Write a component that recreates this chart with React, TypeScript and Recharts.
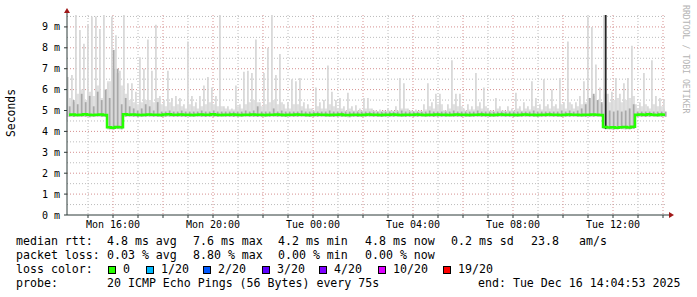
import { ComposedChart, Area, Bar, Line, XAxis, YAxis, CartesianGrid, Cell } from 'recharts'

// time: hours since Mon 00:00, one bin = 9.6 min
const START = 14.16
const STEP = 0.16

const medianRtt = [
  4.80, 4.81, 4.79, 4.80, 4.82, 4.80, 4.78, 4.80, 4.81, 4.79,
  4.20, 4.18, 4.21, 4.20, 4.82, 4.80, 4.81, 4.80, 4.79, 4.80,
  4.81, 4.80, 4.80, 4.79, 4.81, 4.82, 4.80, 4.80, 4.81, 4.80,
  4.80, 4.79, 4.80, 4.81, 4.80, 4.80, 4.82, 4.80, 4.79, 4.80,
  4.80, 4.81, 4.80, 4.79, 4.80, 4.80, 4.81, 4.80, 4.80, 4.79,
  4.80, 4.80, 4.81, 4.80, 4.79, 4.80, 4.80, 4.81, 4.80, 4.80,
  4.79, 4.80, 4.81, 4.80, 4.80, 4.79, 4.80, 4.80, 4.81, 4.79,
  4.78, 4.80, 4.80, 4.79, 4.80, 4.81, 4.80, 4.80, 4.79, 4.80,
  4.80, 4.81, 4.80, 4.79, 4.80, 4.80, 4.80, 4.81, 4.80, 4.79,
  4.80, 4.80, 4.81, 4.80, 4.80, 4.79, 4.80, 4.81, 4.80, 4.80,
  4.79, 4.80, 4.80, 4.81, 4.80, 4.80, 4.79, 4.80, 4.81, 4.80,
  4.80, 4.80, 4.79, 4.80, 4.81, 4.80, 4.80, 4.79, 4.80, 4.80,
  4.81, 4.80, 4.80, 4.79, 4.80, 4.81, 4.80, 4.80, 4.79, 4.80,
  4.80, 4.81, 4.80, 4.79, 4.21, 4.19, 4.20, 4.18, 4.20, 4.21,
  4.19, 4.22, 4.80, 4.81, 4.80, 4.82, 4.80, 4.79, 4.81, 4.80,
]

const pingLow = [
  4.70, 4.69, 4.71, 4.70, 4.70, 4.68, 4.70, 4.71, 4.70, 4.69,
  4.10, 4.09, 4.11, 4.10, 4.70, 4.71, 4.70, 4.69, 4.70, 4.70,
  4.71, 4.70, 4.70, 4.69, 4.70, 4.71, 4.70, 4.70, 4.70, 4.69,
  4.70, 4.70, 4.71, 4.70, 4.69, 4.70, 4.70, 4.70, 4.71, 4.70,
  4.70, 4.69, 4.70, 4.70, 4.71, 4.70, 4.70, 4.69, 4.70, 4.70,
  4.70, 4.71, 4.70, 4.70, 4.69, 4.70, 4.70, 4.70, 4.71, 4.70,
  4.69, 4.70, 4.70, 4.71, 4.70, 4.70, 4.69, 4.70, 4.70, 4.70,
  4.68, 4.70, 4.69, 4.70, 4.70, 4.71, 4.70, 4.70, 4.69, 4.70,
  4.70, 4.70, 4.71, 4.70, 4.69, 4.70, 4.70, 4.70, 4.71, 4.70,
  4.70, 4.69, 4.70, 4.70, 4.70, 4.71, 4.70, 4.70, 4.69, 4.70,
  4.70, 4.70, 4.71, 4.70, 4.70, 4.69, 4.70, 4.70, 4.71, 4.70,
  4.70, 4.69, 4.70, 4.70, 4.71, 4.70, 4.70, 4.69, 4.70, 4.70,
  4.71, 4.70, 4.70, 4.69, 4.70, 4.70, 4.71, 4.70, 4.70, 4.69,
  4.70, 4.70, 4.71, 4.70, 4.11, 4.10, 4.09, 4.10, 4.11, 4.10,
  4.10, 4.12, 4.70, 4.70, 4.69, 4.70, 4.71, 4.70, 4.70, 4.70,
]

// top of the dense light smoke band
const pingBase = [
  5.60, 5.40, 5.80, 6.00, 5.50, 5.90, 5.70, 6.20, 5.60, 6.00,
  6.40, 7.00, 6.80, 6.20, 5.80, 5.50, 5.40, 5.30, 5.40, 5.50,
  5.50, 5.40, 5.60, 5.30, 5.20, 5.40, 5.20, 5.30, 5.20, 5.10,
  5.30, 5.20, 5.10, 5.20, 5.30, 5.40, 5.30, 5.20, 5.20, 5.10,
  5.05, 5.05, 5.20, 5.10, 5.30, 5.40, 5.50, 5.40, 5.20, 5.30,
  5.40, 5.50, 5.30, 5.40, 5.10, 5.10, 5.30, 5.30, 5.20, 5.10,
  5.10, 5.00, 5.20, 5.10, 5.10, 5.30, 5.20, 5.10, 5.10, 5.00,
  5.10, 5.00, 5.00, 5.00, 5.10, 5.10, 5.00, 4.95, 4.95, 4.95,
  5.00, 4.95, 5.00, 5.10, 5.10, 5.00, 4.95, 4.95, 4.95, 5.05,
  5.20, 5.10, 5.30, 5.30, 5.00, 5.10, 5.30, 5.20, 5.20, 5.00,
  5.05, 5.05, 5.20, 5.10, 5.20, 5.00, 4.95, 5.10, 5.00, 4.95,
  5.00, 5.00, 5.10, 5.00, 5.10, 5.05, 5.20, 5.10, 5.05, 5.20,
  5.10, 5.20, 5.10, 5.30, 5.10, 5.40, 5.10, 5.20, 5.30, 5.40,
  5.60, 5.70, 5.50, 5.30, 5.80, 5.40, 5.50, 5.60, 5.40, 5.50,
  5.60, 5.70, 5.10, 5.20, 5.30, 5.10, 5.30, 5.20, 5.20, 5.10,
]

// highest ping of each bin
const pingHigh = [
  6.60, 6.70, 9.57, 8.85, 8.20, 9.10, 9.50, 9.50, 8.90, 9.57,
  6.30, 9.50, 8.60, 6.90, 9.57, 6.30, 6.30, 5.90, 7.55, 7.00,
  8.40, 6.90, 9.10, 5.70, 5.50, 6.90, 5.60, 5.70, 5.60, 5.30,
  8.30, 5.70, 5.40, 5.70, 6.20, 6.60, 6.10, 5.70, 9.57, 5.20,
  5.20, 5.10, 6.20, 5.30, 6.85, 6.90, 6.80, 8.40, 5.40, 6.80,
  8.00, 9.57, 6.70, 7.70, 5.30, 5.40, 6.50, 6.40, 6.55, 5.40,
  5.30, 5.10, 6.10, 5.40, 5.50, 7.15, 5.90, 5.50, 5.60, 5.20,
  5.85, 5.20, 5.25, 5.10, 5.60, 5.60, 5.10, 5.00, 5.05, 5.00,
  5.10, 5.00, 5.20, 6.55, 6.30, 5.10, 5.00, 5.05, 5.00, 5.30,
  6.30, 5.40, 5.80, 5.80, 5.00, 5.30, 7.40, 5.80, 5.80, 5.10,
  5.30, 5.20, 6.80, 5.40, 6.10, 5.10, 5.00, 5.60, 5.20, 5.00,
  5.20, 5.10, 5.85, 5.20, 5.40, 5.20, 6.40, 5.60, 5.30, 6.50,
  5.30, 6.00, 5.30, 6.55, 5.40, 8.30, 5.30, 5.40, 5.70, 6.40,
  9.50, 9.00, 7.20, 6.10, 9.57, 5.80, 5.90, 6.55, 5.80, 6.30,
  6.55, 8.10, 5.30, 5.40, 6.80, 5.20, 7.40, 5.70, 5.60, 5.50,
]

// top of the darker (denser) smoke
const pingDark = [
  5.20, 5.50, 5.30, 5.80, 5.40, 5.70, 5.20, 5.90, 5.50, 6.00,
  5.60, 7.90, 7.00, 5.30, 5.60, 5.20, 5.10, 5.00, 5.10, 5.30,
  5.20, 5.00, 5.40, 4.95, 4.95, 5.00, 4.95, 4.95, 5.00, 4.95,
  4.95, 4.95, 4.95, 5.00, 4.95, 4.95, 5.00, 4.95, 4.95, 4.95,
  4.95, 4.95, 4.95, 4.95, 5.00, 4.95, 5.00, 5.20, 4.95, 4.95,
  4.95, 5.10, 4.95, 5.00, 4.95, 4.95, 4.95, 4.95, 5.00, 4.95,
  4.95, 4.95, 4.95, 4.95, 4.95, 5.00, 4.95, 4.95, 4.95, 4.95,
  4.95, 4.95, 4.95, 4.95, 4.95, 4.95, 4.95, 4.95, 4.95, 4.95,
  4.95, 4.95, 4.95, 5.00, 4.95, 4.95, 4.95, 4.95, 4.95, 4.95,
  5.00, 4.95, 4.95, 4.95, 4.95, 4.95, 5.00, 4.95, 4.95, 4.95,
  4.95, 4.95, 5.00, 4.95, 4.95, 4.95, 4.95, 4.95, 4.95, 4.95,
  4.95, 4.95, 4.95, 4.95, 4.95, 4.95, 5.00, 4.95, 4.95, 4.95,
  4.95, 4.95, 4.95, 5.00, 4.95, 5.00, 4.95, 5.00, 5.10, 5.30,
  5.60, 5.80, 5.50, 5.40, 9.57, 5.00, 4.95, 5.00, 4.95, 5.00,
  5.10, 5.30, 4.95, 4.95, 4.95, 4.95, 4.95, 4.95, 4.95, 4.95,
]

const hourTicks = [15, 16, 17, 18, 19, 20, 21, 22, 23, 24, 25, 26, 27, 28, 29, 30, 31, 32, 33, 34, 35, 36, 37, 38]
const labelHours = [16, 20, 24, 28, 32, 36]
const timeLabels = ['Mon 16:00', 'Mon 20:00', 'Tue 00:00', 'Tue 04:00', 'Tue 08:00', 'Tue 12:00']
const majorV = [16, 18, 20, 22, 24, 26, 28, 30, 32, 34, 36, 38]
const minorV = [15, 17, 19, 21, 23, 25, 27, 29, 31, 33, 35, 37]
const msTicks = [0, 1, 2, 3, 4, 5, 6, 7, 8, 9]
const minorH = [0.5, 1.5, 2.5, 3.5, 4.5, 5.5, 6.5, 7.5, 8.5, 9.5]

const lossLabels = ['0', '1/20', '2/20', '3/20', '4/20', '10/20', '19/20']
const lossColors = ['#26ff00', '#00b8ff', '#0059ff', '#5e00ff', '#7e00ff', '#dd00ff', '#ff0000']
const lossBoxX = [108, 146, 203, 262, 319, 378, 443]

const statRows = [
  { label: 'median rtt:', items: ['4.8 ms avg', '7.6 ms max', '4.2 ms min', '4.8 ms now', '0.2 ms sd', '23.8', 'am/s'] },
  { label: 'packet loss:', items: ['0.03 % avg', '8.80 % max', '0.00 % min', '0.00 % now'] },
]
const statX = [107, 193, 278, 365, 451, 531, 579]

const data = medianRtt.map((m, i) => ({
  t: START + STEP * (i + 0.5),
  median: m,
  base: [pingLow[i], pingBase[i]],
  high: [pingLow[i], pingHigh[i]],
  dark: [pingLow[i], pingDark[i]],
}))

const MONO = '"DejaVu Sans Mono", monospace'
const AXIS = '#2c3a38'

export default function App() {
  const tickStyle = { fontSize: 10, fontFamily: MONO, fill: '#000' }
  return (
    <div style={{ position: 'absolute', left: 0, top: 0, width: 697, height: 297, background: '#fff', fontFamily: MONO }}>
      <ComposedChart width={697} height={297} data={data} margin={{ top: 15, right: 30, bottom: 62, left: 0 }}>
        <CartesianGrid stroke="#bcbcbc" strokeDasharray="1 2" horizontalValues={minorH} verticalValues={minorV} />
        <CartesianGrid stroke="#d59090" strokeDasharray="1 2" horizontalValues={msTicks.slice(1)} verticalValues={majorV} />
        <XAxis
          dataKey="t" type="number" domain={[START, START + 24]} ticks={hourTicks} interval={0}
          tickFormatter={(v: number) => { const k = labelHours.indexOf(v); return k >= 0 ? timeLabels[k] : '' }}
          height={20} tickSize={3} tickMargin={3} tick={tickStyle}
          axisLine={{ stroke: AXIS }} tickLine={{ stroke: AXIS }} allowDataOverflow
        />
        <YAxis
          type="number" domain={[0, 9.57]} ticks={msTicks} interval={0} width={67}
          tickFormatter={(v: number) => `${v} m`} tickSize={3} tickMargin={4} tick={tickStyle}
          axisLine={{ stroke: AXIS }} tickLine={{ stroke: AXIS }} allowDataOverflow
        />
        <Area dataKey="base" type="step" stroke="none" fill="#e0e0e0" fillOpacity={1} isAnimationActive={false} />
        <Bar dataKey="high" barSize={3} fill="#d9d9d9" isAnimationActive={false} />
        <Bar dataKey="dark" barSize={2} fill="#a8a8a8" isAnimationActive={false}>
          {data.map((d, i) => <Cell key={i} fill={d.dark[1] > 9 ? '#262626' : '#a8a8a8'} />)}
        </Bar>
        <Line dataKey="median" type="step" stroke="#26ff00" strokeWidth={2.5} dot={false} isAnimationActive={false} />
      </ComposedChart>

      <svg width={697} height={297} style={{ position: 'absolute', left: 0, top: 0, pointerEvents: 'none' }}>
        <line x1={67} y1={15} x2={67} y2={11} stroke={AXIS} />
        <polygon points="64,13 70,13 67,8" fill="#a01818" />
        <line x1={667} y1={215} x2={670} y2={215} stroke={AXIS} />
        <polygon points="669,212 669,218 674,215" fill="#a01818" />
        <text x={15} y={113} transform="rotate(-90 15 113)" textAnchor="middle" fontSize={11.4} fontFamily={MONO} fill="#000">Seconds</text>
        <text x={683} y={5} transform="rotate(90 683 5)" fontSize={8.2} fontFamily={MONO} fill="#b4b4b4">RRDTOOL / TOBI OETIKER</text>
      </svg>

      {statRows.map((row, r) => (
        <div key={r} style={{ position: 'absolute', left: 0, top: 234 + r * 14, fontSize: 11.6, lineHeight: '14px', whiteSpace: 'pre' }}>
          <span style={{ position: 'absolute', left: 16 }}>{row.label}</span>
          {row.items.map((it, k) => <span key={k} style={{ position: 'absolute', left: statX[k] }}>{it}</span>)}
        </div>
      ))}
      <div style={{ position: 'absolute', left: 0, top: 262, fontSize: 11.6, lineHeight: '14px', whiteSpace: 'pre' }}>
        <span style={{ position: 'absolute', left: 16 }}>loss color:</span>
        {lossLabels.map((l, k) => (
          <span key={k}>
            <span style={{ position: 'absolute', left: lossBoxX[k], top: 3.5, width: 6, height: 6, border: '1px solid #000', background: lossColors[k] }} />
            <span style={{ position: 'absolute', left: lossBoxX[k] + 15 }}>{l}</span>
          </span>
        ))}
      </div>
      <div style={{ position: 'absolute', left: 0, top: 276, fontSize: 11.6, lineHeight: '14px', whiteSpace: 'pre' }}>
        <span style={{ position: 'absolute', left: 16 }}>probe:</span>
        <span style={{ position: 'absolute', left: 107 }}>20 ICMP Echo Pings (56 Bytes) every 75s</span>
        <span style={{ position: 'absolute', left: 478 }}>end: Tue Dec 16 14:04:53 2025</span>
      </div>
    </div>
  )
}
